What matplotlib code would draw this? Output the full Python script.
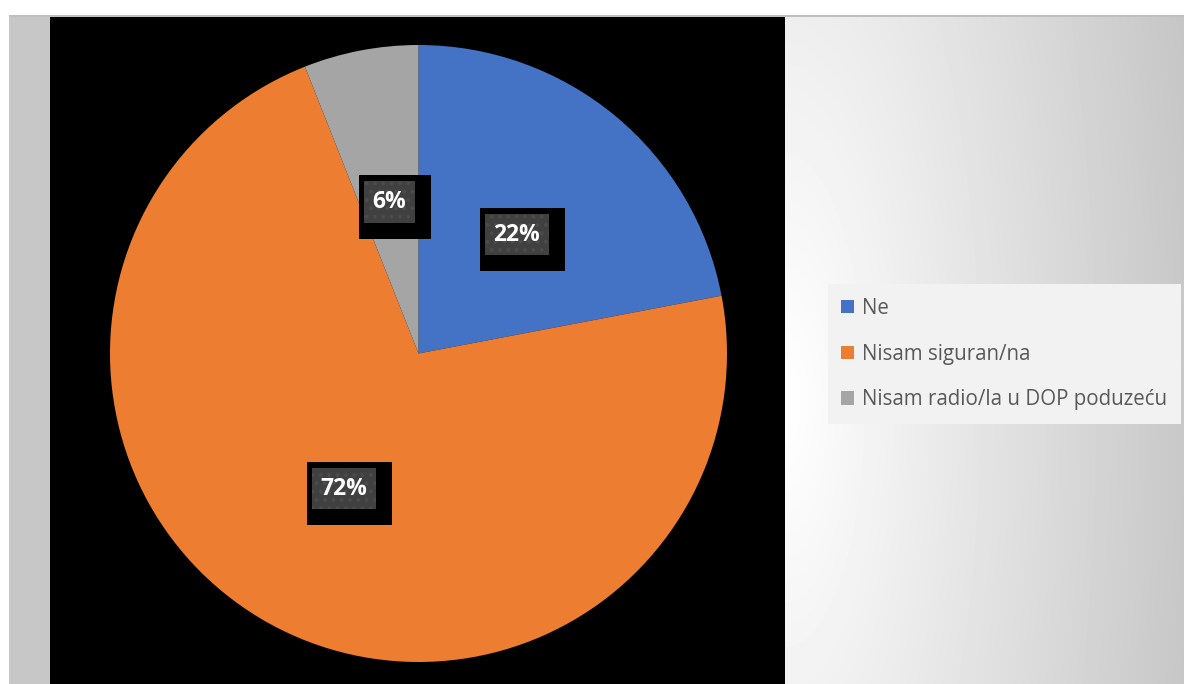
import matplotlib.pyplot as plt
from matplotlib.transforms import IdentityTransform
import numpy as np

plt.rcParams["font.family"] = "Open Sans"
plt.rcParams["hatch.linewidth"] = 1.5

labels = ['Ne', 'Nisam siguran/na', 'Nisam radio/la u DOP poduzeću']
values = [22, 72, 6]
colors = ['#4472c4', '#ed7d31', '#a5a5a5']

W, H = 1184, 684
fig = plt.figure(figsize=(W / 100, H / 100), dpi=100, facecolor='white')

# background: chart area, left strip, black plot area, gradient on the right
bg = fig.add_axes([0, 0, 1, 1])
bg.axis('off')
xx, yy = np.meshgrid(np.arange(785, W), np.arange(17, H))
d = np.sqrt(((xx - 785) / 435.0) ** 2 + ((yy - 400) / 1350.0) ** 2)
shade = 255 - 60 * np.clip(d, 0, 1)
bg.imshow(shade, cmap='gray', vmin=0, vmax=255, extent=(785, W, H, 17),
          aspect='auto', interpolation='bilinear')
bg.add_patch(plt.Rectangle((9, 15), W - 9, 2, color='#c0c0c0', lw=0))
bg.add_patch(plt.Rectangle((9, 17), 41, H - 17, color='#c7c7c7', lw=0))
bg.add_patch(plt.Rectangle((50, 17), 735, H - 17, color='black', lw=0))
bg.set_xlim(0, W)
bg.set_ylim(H, 0)

# pie
cx, cy, r = 418.5, 353.5, 308.5
ax = fig.add_axes([(cx - r) / W, (H - cy - r) / H, 2 * r / W, 2 * r / H])
wedges, texts, autotexts = ax.pie(values, colors=colors, startangle=90, counterclock=False,
                                  autopct='%1.0f%%', pctdistance=0.5, radius=1,
                                  wedgeprops={'linewidth': 0})
ax.set_xlim(-1, 1)
ax.set_ylim(-1, 1)
ax.set_aspect('equal')

for t in autotexts:
    t.set_fontsize(16.5)
    t.set_fontweight('bold')
    t.set_color('white')
    t.set_zorder(5)
    t.set_bbox(dict(boxstyle='square,pad=0.38', fc='#404040', ec='#4c4c4c', hatch='..', lw=0))

leg = fig.legend(wedges, labels, loc='center left', bbox_to_anchor=(828 / W, 1 - 354 / H),
                 frameon=True, fancybox=False, facecolor='#f2f2f2', edgecolor='none',
                 framealpha=1, fontsize=14.8, labelcolor='#595959',
                 handlelength=0.62, handleheight=0.62, handletextpad=0.4,
                 labelspacing=1.2, borderpad=0.65, borderaxespad=0)

# black frame behind each data label (wider to the right and bottom)
fig.canvas.draw()
for t in autotexts:
    bb = t.get_bbox_patch().get_window_extent()
    ax.add_patch(plt.Rectangle((bb.x0 - 5, bb.y0 - 16), bb.width + 21, bb.height + 22,
                               transform=IdentityTransform(), fc='black', ec='none',
                               zorder=4, clip_on=False))

fig.savefig('out.png', dpi=100, facecolor='white')
